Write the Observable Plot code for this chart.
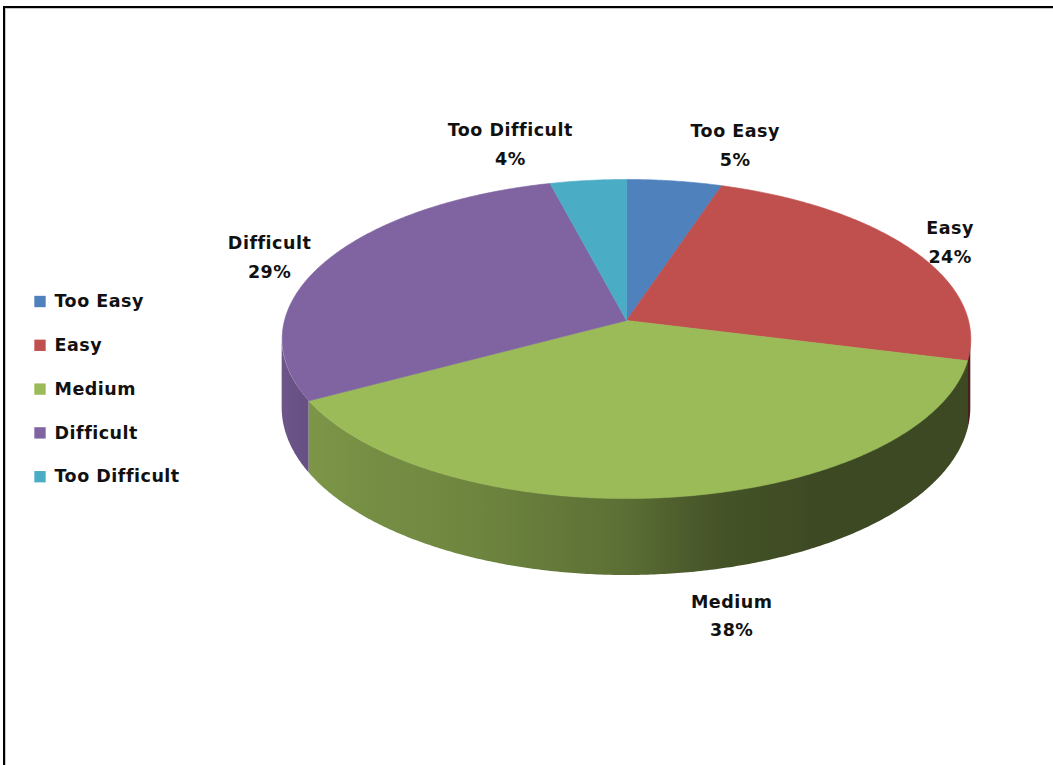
<!DOCTYPE html>
<html>
<head>
<meta charset="utf-8">
<script src="https://cdn.jsdelivr.net/npm/d3@7"></script>
<script src="https://cdn.jsdelivr.net/npm/@observablehq/plot@0.6"></script>
<style>
  html, body { margin: 0; padding: 0; background: #fff; }
  #wrap { position: relative; width: 1053px; height: 765px; overflow: hidden; background: #fff; }
  #frame { position: absolute; left: 3px; top: 6px; width: 1100px; height: 800px;
           border-left: 2px solid #000; border-top: 2px solid #000;
           box-shadow: inset 1px 1px 0 #c8c8c8; pointer-events: none; }
  #chart svg { display: block; }
  #chart svg text { letter-spacing: 0.5px; }
</style>
</head>
<body>
<div id="wrap"><div id="chart"></div><div id="frame"></div></div>
<script>
// ---- data ----
const categories = ["Too Easy", "Easy", "Medium", "Difficult", "Too Difficult"];
const percentages = [5, 24, 38, 29, 4];
const labelTexts = ["5%", "24%", "38%", "29%", "4%"];
const colors = ["#4F81BD", "#C0504D", "#9BBB59", "#8064A2", "#4BACC6"];

// ---- 3D pie geometry (perspective projection of a tilted disk) ----
const W = 1053, H = 765;
const cx = 626, cy = 320;      // projected disk centre
const A = 342, B = 157.4;      // horizontal / vertical radii
const K = 0.116;               // perspective strength
const D = 68;                  // thickness of the pie
const FONT = "DejaVu Sans";
const FS = 17.5, LS = 0.5;

function proj(deg, r = 1) {
  const t = deg * Math.PI / 180;
  const u = r * Math.sin(t), v = -r * Math.cos(t);
  const w = 1 - K * v;
  return {x: cx + A * u / w, y: cy + B * v / w, u, v, w};
}

const total = d3.sum(percentages);
let acc = 0;
const slices = categories.map((c, i) => {
  const a0 = acc / total * 360;
  acc += percentages[i];
  const a1 = acc / total * 360;
  return {c, i, a0, a1, color: colors[i]};
});

// top faces
const topFaces = slices.map(s => {
  const pts = [{x: cx, y: cy}];
  const n = Math.max(2, Math.ceil((s.a1 - s.a0) / 0.5));
  for (let k = 0; k <= n; k++) {
    const p = proj(s.a0 + (s.a1 - s.a0) * k / n);
    pts.push({x: p.x, y: p.y});
  }
  pts.push({x: cx, y: cy});
  return {s, pts};
});

// side walls (visible front rim)
const tL = Math.acos(-K) * 180 / Math.PI, tR = 360 - tL;
const shade = d3.scaleLinear()
  .domain([150, 167, 181, 205, 240, 265])
  .range([0.39, 0.45, 0.60, 0.72, 0.80, 0.87])
  .clamp(true);
const sides = [];
for (const s of slices) {
  const lo = Math.max(s.a0, tL), hi = Math.min(s.a1, tR);
  if (hi <= lo) continue;
  const n = Math.max(2, Math.ceil((hi - lo) / 0.5));
  const rows = [];
  for (let k = 0; k <= n; k++) {
    const p = proj(lo + (hi - lo) * k / n);
    rows.push({x: p.x, y1: p.y, y2: p.y + D / p.w});
  }
  sides.push({s, rows});
}
const xLeft = proj(tR).x, xRight = proj(tL).x;

// data labels: outside end, placed beside the rim point at mid-angle
const ctx = document.createElement("canvas").getContext("2d");
ctx.font = `bold ${FS}px "${FONT}"`;
const textWidth = l => ctx.measureText(l).width + LS * l.length;
const labels = slices.map(s => {
  const mid = (s.a0 + s.a1) / 2;
  const p = proj(mid);
  let py = p.y;
  if (p.v > 0) py += D / p.w;
  const lines = [s.c, labelTexts[s.i]];
  const tw = d3.max(lines, textWidth);
  const sx = Math.sign(p.u) || 1;
  return {x: p.x + sx * (tw / 2 + 16), y: py + p.v * Math.abs(p.v) * 39.5, text: lines.join("\n")};
});

// legend
const legend = categories.map((c, i) => ({c, color: colors[i], y: 301 + i * 43.8}));

const marks = [
  ...sides.map(sd => Plot.areaY(sd.rows, {x: "x", y1: "y1", y2: "y2", fill: `url(#side${sd.s.i})`, curve: "linear"})),
  ...topFaces.map(f => Plot.line(f.pts, {x: "x", y: "y", fill: f.s.color, stroke: f.s.color, strokeWidth: 0.6, curve: "linear"})),
  Plot.text(labels, {x: "x", y: "y", text: "text", textAnchor: "middle", lineAnchor: "middle",
    lineHeight: 1.62, fontSize: FS, fontWeight: "bold", fontFamily: FONT, fill: "#111"}),
  Plot.dot(legend, {x: () => 39.5, y: "y", symbol: "square", r: 6.4, fill: "color", stroke: null}),
  Plot.text(legend, {x: () => 54, y: "y", text: "c", textAnchor: "start", fontSize: FS, fontWeight: "bold", fontFamily: FONT, fill: "#111"})
];

const chart = Plot.plot({
  width: W, height: H,
  margin: 0,
  x: {type: "linear", domain: [0, W], range: [0, W], axis: null},
  y: {type: "linear", domain: [0, H], range: [0, H], axis: null},
  color: {type: "identity"},
  style: {background: "#fff", fontFamily: FONT},
  marks
});

// horizontal shading gradients for the side walls
const sx = chart.scale("x");
const NS = "http://www.w3.org/2000/svg";
const defs = document.createElementNS(NS, "defs");
for (const sd of sides) {
  const g = document.createElementNS(NS, "linearGradient");
  g.setAttribute("id", `side${sd.s.i}`);
  g.setAttribute("gradientUnits", "userSpaceOnUse");
  const gx1 = sx.apply(xLeft), gx2 = sx.apply(xRight);
  g.setAttribute("x1", gx1); g.setAttribute("x2", gx2);
  g.setAttribute("y1", 0); g.setAttribute("y2", 0);
  const stops = [];
  for (let t = tL; t <= tR + 1e-9; t += 2) {
    const p = proj(t);
    const f = shade(t), b = d3.rgb(sd.s.color);
    stops.push({o: (sx.apply(p.x) - gx1) / (gx2 - gx1), c: d3.rgb(b.r * f, b.g * f, b.b * f).formatHex()});
  }
  stops.sort((a, b) => a.o - b.o);
  for (const st of stops) {
    const e = document.createElementNS(NS, "stop");
    e.setAttribute("offset", Math.max(0, Math.min(1, st.o)));
    e.setAttribute("stop-color", st.c);
    g.appendChild(e);
  }
  defs.appendChild(g);
}
chart.insertBefore(defs, chart.firstChild);
document.getElementById("chart").appendChild(chart);
</script>
</body>
</html>
